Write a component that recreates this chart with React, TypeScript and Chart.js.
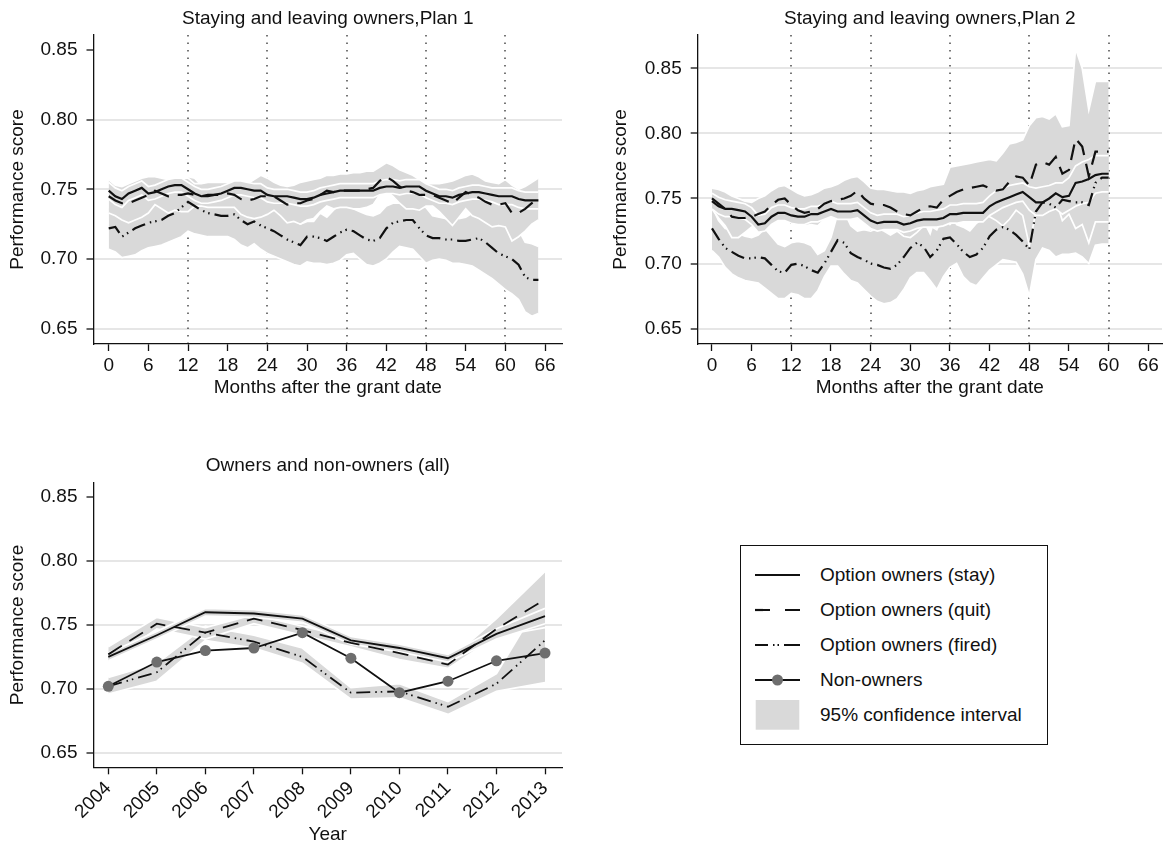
import React, { useEffect, useRef } from "react";
import { Chart, registerables } from "chart.js";

Chart.register(...registerables);

const FONT = "'Liberation Sans', Arial, Helvetica, sans-serif";
const INK = "#111111";
const BAND_FILL = "#d9d9d9";
const GRID = "#e6e6e6";

// ---- axis ticks -------------------------------------------------------
const monthTicks = [0, 6, 12, 18, 24, 30, 36, 42, 48, 54, 60, 66];
const vestingMonths = [12, 24, 36, 48, 60];
const scoreTicks = [0.65, 0.7, 0.75, 0.8, 0.85];
const years = [2004, 2005, 2006, 2007, 2008, 2009, 2010, 2011, 2012, 2013];

const seriesNames = [
  "Option owners (stay)",
  "Option owners (quit)",
  "Option owners (fired)",
  "Non-owners",
  "95% confidence interval",
];

// ---- Plan 1 (months 0..65) --------------------------------------------
const plan1Months = Array.from({ length: 66 }, (_, i) => i);
const plan1Stay = [
  0.749, 0.745, 0.743, 0.747, 0.749, 0.751, 0.747, 0.748, 0.75, 0.752,
  0.753, 0.753, 0.75, 0.747, 0.745, 0.745, 0.746, 0.747, 0.749, 0.751,
  0.751, 0.75, 0.749, 0.749, 0.746, 0.745, 0.745, 0.745, 0.744, 0.743,
  0.743, 0.744, 0.746, 0.747, 0.748, 0.749, 0.749, 0.749, 0.749, 0.749,
  0.749, 0.751, 0.752, 0.752, 0.751, 0.752, 0.752, 0.752, 0.749, 0.747,
  0.745, 0.745, 0.744, 0.746, 0.747, 0.748, 0.748, 0.747, 0.746, 0.745,
  0.745, 0.745, 0.743, 0.742, 0.742, 0.742,
];
const plan1StayHi = [
  0.755, 0.751, 0.749, 0.752, 0.754, 0.756, 0.752, 0.753, 0.755, 0.757,
  0.758, 0.758, 0.755, 0.752, 0.75, 0.75, 0.751, 0.752, 0.754, 0.756,
  0.756, 0.755, 0.754, 0.754, 0.751, 0.75, 0.75, 0.75, 0.749, 0.748,
  0.748, 0.749, 0.751, 0.752, 0.753, 0.754, 0.754, 0.754, 0.754, 0.754,
  0.754, 0.756, 0.757, 0.757, 0.756, 0.757, 0.757, 0.757, 0.754, 0.752,
  0.75, 0.75, 0.749, 0.751, 0.752, 0.753, 0.753, 0.752, 0.751, 0.751,
  0.751, 0.751, 0.749, 0.748, 0.748, 0.748,
];
const plan1StayLo = [
  0.743, 0.739, 0.737, 0.742, 0.744, 0.746, 0.742, 0.743, 0.745, 0.747,
  0.748, 0.748, 0.745, 0.742, 0.74, 0.74, 0.741, 0.742, 0.744, 0.746,
  0.746, 0.745, 0.744, 0.744, 0.741, 0.74, 0.74, 0.74, 0.739, 0.738,
  0.738, 0.739, 0.741, 0.742, 0.743, 0.744, 0.744, 0.744, 0.744, 0.744,
  0.744, 0.746, 0.747, 0.747, 0.746, 0.747, 0.747, 0.747, 0.744, 0.742,
  0.74, 0.74, 0.739, 0.741, 0.742, 0.743, 0.743, 0.742, 0.741, 0.739,
  0.739, 0.739, 0.737, 0.736, 0.736, 0.736,
];
const plan1Quit = [
  0.745, 0.742, 0.74, 0.74, 0.742, 0.744, 0.746, 0.749, 0.747, 0.745,
  0.746, 0.746, 0.747, 0.746, 0.745, 0.746, 0.746, 0.746, 0.747, 0.746,
  0.743, 0.742, 0.743, 0.745, 0.745, 0.745, 0.742, 0.739, 0.74, 0.74,
  0.742, 0.743, 0.746, 0.749, 0.748, 0.749, 0.749, 0.749, 0.749, 0.75,
  0.751, 0.756, 0.759, 0.756, 0.752, 0.749, 0.748, 0.746, 0.746, 0.746,
  0.744, 0.742, 0.74, 0.744, 0.748, 0.746, 0.744, 0.741, 0.739, 0.739,
  0.74, 0.733, 0.733, 0.736, 0.74, 0.743,
];
const plan1QuitHi = [
  0.757, 0.753, 0.752, 0.754, 0.756, 0.758, 0.759, 0.759, 0.758, 0.757,
  0.757, 0.758, 0.758, 0.754, 0.754, 0.755, 0.755, 0.755, 0.755, 0.755,
  0.754, 0.754, 0.757, 0.76, 0.758, 0.755, 0.753, 0.752, 0.753, 0.755,
  0.756, 0.757, 0.758, 0.76, 0.76, 0.761, 0.761, 0.762, 0.762, 0.763,
  0.763, 0.766, 0.769, 0.767, 0.764, 0.762, 0.76, 0.757, 0.754, 0.754,
  0.754, 0.755, 0.756, 0.758, 0.76, 0.761, 0.759, 0.756, 0.755, 0.754,
  0.757, 0.753, 0.75, 0.752, 0.755, 0.758,
];
const plan1QuitLo = [
  0.733, 0.731, 0.728, 0.726, 0.728, 0.73, 0.733, 0.739, 0.736, 0.733,
  0.735, 0.734, 0.734, 0.738, 0.738, 0.737, 0.737, 0.737, 0.737, 0.737,
  0.732, 0.73, 0.729, 0.73, 0.732, 0.735, 0.731, 0.726, 0.727, 0.725,
  0.728, 0.729, 0.734, 0.738, 0.736, 0.737, 0.737, 0.736, 0.736, 0.737,
  0.739, 0.746, 0.749, 0.745, 0.74, 0.736, 0.736, 0.735, 0.738, 0.738,
  0.734, 0.729, 0.724, 0.73, 0.736, 0.731, 0.729, 0.726, 0.723, 0.724,
  0.723, 0.713, 0.716, 0.72, 0.725, 0.728,
];
const plan1Fired = [
  0.722, 0.723, 0.716, 0.719, 0.722, 0.724, 0.726, 0.727, 0.728, 0.731,
  0.733, 0.737, 0.741, 0.738, 0.735, 0.733, 0.732, 0.731, 0.731, 0.732,
  0.728, 0.725, 0.727, 0.724, 0.722, 0.72, 0.717, 0.714, 0.712, 0.71,
  0.716, 0.716, 0.715, 0.713, 0.716, 0.719, 0.721, 0.72, 0.717, 0.714,
  0.713, 0.715, 0.722, 0.726, 0.727, 0.728, 0.728, 0.722, 0.717, 0.715,
  0.715, 0.714, 0.714, 0.713, 0.713, 0.714, 0.715, 0.712, 0.708, 0.704,
  0.702, 0.7, 0.696, 0.687, 0.685, 0.685,
];
const plan1FiredHi = [
  0.737, 0.741, 0.731, 0.736, 0.741, 0.742, 0.744, 0.745, 0.746, 0.75,
  0.752, 0.756, 0.759, 0.758, 0.753, 0.75, 0.748, 0.746, 0.746, 0.75,
  0.746, 0.742, 0.743, 0.741, 0.74, 0.738, 0.734, 0.73, 0.728, 0.725,
  0.727, 0.727, 0.733, 0.73, 0.735, 0.739, 0.739, 0.736, 0.734, 0.732,
  0.731, 0.733, 0.738, 0.74, 0.74, 0.741, 0.742, 0.738, 0.737, 0.731,
  0.73, 0.729, 0.731, 0.729, 0.73, 0.733, 0.738, 0.735, 0.73, 0.726,
  0.726, 0.725, 0.721, 0.712, 0.711, 0.709,
];
const plan1FiredLo = [
  0.707, 0.705, 0.701, 0.702, 0.703, 0.706, 0.708, 0.709, 0.71, 0.712,
  0.714, 0.716, 0.72, 0.718, 0.717, 0.716, 0.716, 0.716, 0.716, 0.714,
  0.71, 0.708, 0.711, 0.707, 0.704, 0.702, 0.7, 0.698, 0.696, 0.695,
  0.698, 0.697, 0.697, 0.696, 0.697, 0.699, 0.703, 0.704, 0.7, 0.696,
  0.695, 0.697, 0.7, 0.705, 0.709, 0.708, 0.707, 0.702, 0.697, 0.699,
  0.7, 0.699, 0.697, 0.697, 0.696, 0.695, 0.692, 0.689, 0.686, 0.682,
  0.678, 0.675, 0.671, 0.662, 0.659, 0.661,
];

// ---- Plan 2 (months 0..60) --------------------------------------------
const plan2Months = Array.from({ length: 61 }, (_, i) => i);
const plan2Stay = [
  0.748, 0.744, 0.742, 0.742, 0.741, 0.74, 0.736, 0.73, 0.731, 0.736,
  0.739, 0.739, 0.737, 0.736, 0.736, 0.738, 0.738, 0.74, 0.742, 0.74,
  0.74, 0.74, 0.741, 0.737, 0.733, 0.731, 0.732, 0.732, 0.732, 0.73,
  0.731, 0.733, 0.734, 0.734, 0.734, 0.735, 0.738, 0.738, 0.739, 0.739,
  0.739, 0.739, 0.744, 0.747, 0.749, 0.751, 0.753, 0.755, 0.751, 0.747,
  0.747, 0.75, 0.754, 0.751, 0.752, 0.762, 0.763, 0.765, 0.768, 0.769,
  0.769,
];
const plan2StayHi = [
  0.754, 0.751, 0.749, 0.748, 0.747, 0.746, 0.743, 0.737, 0.738, 0.743,
  0.745, 0.745, 0.743, 0.742, 0.742, 0.744, 0.744, 0.746, 0.748, 0.746,
  0.746, 0.746, 0.747, 0.743, 0.739, 0.737, 0.738, 0.738, 0.738, 0.736,
  0.737, 0.739, 0.74, 0.74, 0.741, 0.742, 0.745, 0.745, 0.746, 0.746,
  0.746, 0.747, 0.752, 0.756, 0.758, 0.76, 0.761, 0.762, 0.759, 0.758,
  0.759, 0.76, 0.762, 0.762, 0.766, 0.775, 0.778, 0.78, 0.783, 0.783,
  0.783,
];
const plan2StayLo = [
  0.742, 0.738, 0.736, 0.736, 0.735, 0.734, 0.73, 0.724, 0.725, 0.73,
  0.733, 0.733, 0.731, 0.73, 0.73, 0.732, 0.732, 0.734, 0.736, 0.734,
  0.734, 0.734, 0.735, 0.731, 0.727, 0.725, 0.726, 0.726, 0.726, 0.724,
  0.725, 0.727, 0.728, 0.728, 0.728, 0.729, 0.731, 0.731, 0.732, 0.732,
  0.732, 0.732, 0.737, 0.74, 0.743, 0.745, 0.747, 0.748, 0.741, 0.737,
  0.737, 0.74, 0.742, 0.738, 0.741, 0.744, 0.746, 0.747, 0.754, 0.755,
  0.755,
];
const plan2Quit = [
  0.75, 0.746, 0.742, 0.736, 0.735, 0.735, 0.736, 0.738, 0.74, 0.745,
  0.749, 0.75, 0.745, 0.741, 0.739, 0.74, 0.742, 0.746, 0.748, 0.749,
  0.75, 0.752, 0.756, 0.75, 0.746, 0.745, 0.745, 0.743, 0.74, 0.738,
  0.737, 0.74, 0.743, 0.744, 0.743, 0.749, 0.752, 0.755, 0.757, 0.758,
  0.759, 0.76, 0.758, 0.756, 0.757, 0.763, 0.767, 0.766, 0.76, 0.776,
  0.778, 0.776, 0.782, 0.769, 0.772, 0.796, 0.79, 0.767, 0.786, 0.786,
  0.786,
];
const plan2QuitHi = [
  0.758, 0.757, 0.755, 0.752, 0.75, 0.748, 0.747, 0.75, 0.752, 0.756,
  0.759, 0.76, 0.757, 0.754, 0.752, 0.753, 0.755, 0.758, 0.759, 0.761,
  0.764, 0.766, 0.767, 0.763, 0.758, 0.757, 0.757, 0.756, 0.755, 0.755,
  0.754, 0.756, 0.757, 0.759, 0.76, 0.761, 0.774, 0.775, 0.776, 0.777,
  0.778, 0.779, 0.78, 0.779, 0.785, 0.792, 0.793, 0.795, 0.806, 0.812,
  0.813, 0.811, 0.815, 0.805, 0.806, 0.865, 0.85, 0.818, 0.84, 0.84,
  0.84,
];
const plan2QuitLo = [
  0.742, 0.735, 0.729, 0.72, 0.72, 0.724, 0.728, 0.729, 0.73, 0.734,
  0.739, 0.74, 0.733, 0.73, 0.729, 0.73, 0.729, 0.734, 0.737, 0.737,
  0.736, 0.738, 0.745, 0.737, 0.734, 0.733, 0.733, 0.73, 0.725, 0.721,
  0.72, 0.724, 0.729, 0.729, 0.726, 0.737, 0.73, 0.735, 0.738, 0.739,
  0.74, 0.741, 0.736, 0.733, 0.729, 0.734, 0.741, 0.737, 0.714, 0.74,
  0.743, 0.741, 0.749, 0.733, 0.738, 0.727, 0.73, 0.716, 0.732, 0.732,
  0.732,
];
const plan2Fired = [
  0.727, 0.719, 0.712, 0.709, 0.706, 0.704, 0.704, 0.705, 0.704, 0.699,
  0.694, 0.693, 0.699, 0.7, 0.698, 0.695, 0.693, 0.7, 0.709, 0.718,
  0.716, 0.708, 0.705, 0.703, 0.7, 0.699, 0.697, 0.696, 0.699, 0.705,
  0.712, 0.716, 0.713, 0.705, 0.71, 0.719, 0.72, 0.715, 0.709, 0.705,
  0.707, 0.712, 0.721, 0.726, 0.728, 0.726, 0.722, 0.717, 0.711, 0.74,
  0.747, 0.746, 0.743, 0.749, 0.748, 0.747, 0.747, 0.745, 0.762, 0.766,
  0.766,
];
const plan2FiredHi = [
  0.744, 0.733, 0.727, 0.726, 0.723, 0.721, 0.72, 0.722, 0.727, 0.721,
  0.715, 0.713, 0.716, 0.717, 0.716, 0.714, 0.707, 0.71, 0.72, 0.738,
  0.74, 0.729, 0.725, 0.726, 0.725, 0.727, 0.725, 0.722, 0.725, 0.73,
  0.735, 0.739, 0.733, 0.723, 0.74, 0.748, 0.743, 0.73, 0.728, 0.725,
  0.731, 0.735, 0.747, 0.753, 0.753, 0.75, 0.743, 0.742, 0.747, 0.775,
  0.785, 0.786, 0.79, 0.792, 0.791, 0.79, 0.789, 0.8, 0.817, 0.817,
  0.817,
];
const plan2FiredLo = [
  0.71, 0.705, 0.697, 0.692, 0.689, 0.687, 0.686, 0.685, 0.681, 0.677,
  0.673, 0.673, 0.677, 0.676, 0.673, 0.673, 0.679, 0.69, 0.698, 0.698,
  0.692, 0.687, 0.685, 0.68, 0.675, 0.671, 0.669, 0.67, 0.673, 0.68,
  0.689, 0.693, 0.693, 0.687, 0.68, 0.69, 0.697, 0.7, 0.69, 0.685,
  0.683, 0.689, 0.695, 0.699, 0.703, 0.702, 0.701, 0.692, 0.675, 0.703,
  0.712, 0.71, 0.705, 0.707, 0.707, 0.708, 0.705, 0.7, 0.714, 0.715,
  0.715,
];

// ---- Owners and non-owners by year ------------------------------------
const allStay = [0.725, 0.742, 0.76, 0.759, 0.755, 0.738, 0.732, 0.724, 0.743, 0.757];
const allStayHi = [0.728, 0.745, 0.763, 0.762, 0.758, 0.741, 0.735, 0.727, 0.747, 0.763];
const allStayLo = [0.722, 0.739, 0.757, 0.756, 0.752, 0.735, 0.729, 0.721, 0.739, 0.751];
const allQuit = [0.727, 0.751, 0.744, 0.755, 0.746, 0.736, 0.728, 0.719, 0.747, 0.77];
const allQuitHi = [0.733, 0.756, 0.748, 0.758, 0.749, 0.74, 0.732, 0.722, 0.755, 0.792];
const allQuitLo = [0.721, 0.747, 0.739, 0.751, 0.742, 0.733, 0.723, 0.716, 0.741, 0.748];
const allFired = [0.702, 0.713, 0.744, 0.737, 0.725, 0.697, 0.698, 0.686, 0.704, 0.738];
const allFiredHi = [0.709, 0.72, 0.749, 0.742, 0.732, 0.701, 0.704, 0.69, 0.712, 0.775];
const allFiredLo = [0.696, 0.706, 0.738, 0.732, 0.72, 0.692, 0.693, 0.68, 0.698, 0.705];
const nonOwners = [0.702, 0.721, 0.73, 0.732, 0.744, 0.724, 0.697, 0.706, 0.722, 0.728];

// ---- line styles --------------------------------------------------------
const quitDash = [16, 9];
const firedDash = [14, 5, 1.5, 4, 1.5, 5];
const MARKER = "#6e6e6e";

const pts = (xs: number[], ys: number[]) => xs.map((x, i) => ({ x, y: ys[i] }));

// Two datasets per band: the upper edge fills down to the lower edge,
// both edges are stroked in white.
function band(xs: number[], lo: number[], hi: number[], order: number) {
  return [
    {
      data: pts(xs, hi),
      borderColor: "#ffffff",
      borderWidth: 1.7,
      backgroundColor: BAND_FILL,
      fill: "+1",
      pointRadius: 0,
      tension: 0,
      order: order + 1,
    },
    {
      data: pts(xs, lo),
      borderColor: "#ffffff",
      borderWidth: 1.7,
      backgroundColor: BAND_FILL,
      fill: false,
      pointRadius: 0,
      tension: 0,
      order,
    },
  ];
}

function line(xs: number[], ys: number[], dash: number[], width: number, order: number) {
  return {
    data: pts(xs, ys),
    borderColor: INK,
    borderWidth: width,
    borderDash: dash,
    pointRadius: 0,
    fill: false,
    tension: 0,
    order,
  };
}

// dotted vertical guides at the vesting dates
const vestingLinesPlugin = {
  id: "vestingLines",
  beforeDatasetsDraw(chart: any, _args: any, opts: any) {
    const values: number[] = (opts && opts.values) || [];
    if (!values.length) return;
    const { ctx, chartArea, scales } = chart;
    ctx.save();
    ctx.strokeStyle = "#555555";
    ctx.lineWidth = 1.6;
    ctx.setLineDash([1.6, 5.9]);
    values.forEach((v) => {
      const x = Math.round(scales.x.getPixelForValue(v));
      ctx.beginPath();
      ctx.moveTo(x, chartArea.top);
      ctx.lineTo(x, chartArea.bottom);
      ctx.stroke();
    });
    ctx.restore();
  },
};

type PanelSpec = {
  left: number;
  top: number;
  width: number;
  height: number;
  title: string;
  titlePad: [number, number];
  xTitle: string;
  xTitlePadBottom: number;
  xMin: number;
  xMax: number;
  yMin: number;
  yMax: number;
  xTicks: number[];
  rotate: boolean;
  yAxisWidth: number;
  xAxisHeight: number;
  padRight: number;
  hideTopGrid: boolean;
  guides: number[];
  datasets: any[];
};

const font = (size = 19) => ({ family: FONT, size, weight: "normal" as const, lineHeight: 1.2 });

function buildConfig(s: PanelSpec): any {
  return {
    type: "line",
    data: { datasets: s.datasets },
    plugins: [vestingLinesPlugin],
    options: {
      responsive: false,
      animation: false,
      devicePixelRatio: 1,
      events: [],
      layout: { padding: { left: 0, right: s.padRight, top: 0, bottom: 0 } },
      plugins: {
        legend: { display: false },
        tooltip: { enabled: false },
        title: {
          display: true,
          text: s.title,
          fullSize: false,
          color: INK,
          font: font(),
          padding: { top: s.titlePad[0], bottom: s.titlePad[1] },
        },
        vestingLines: { values: s.guides },
      },
      scales: {
        x: {
          type: "linear",
          min: s.xMin,
          max: s.xMax,
          afterBuildTicks: (scale: any) => {
            scale.ticks = s.xTicks.map((v) => ({ value: v }));
          },
          afterFit: (scale: any) => {
            scale.height = s.xAxisHeight;
          },
          ticks: {
            autoSkip: false,
            color: INK,
            font: font(),
            padding: 3,
            minRotation: s.rotate ? 45 : 0,
            maxRotation: s.rotate ? 45 : 0,
            callback: (v: any) => String(v),
          },
          grid: {
            display: true,
            drawOnChartArea: false,
            drawTicks: true,
            tickLength: 7,
            tickColor: INK,
            tickWidth: 1.3,
            color: "rgba(0,0,0,0)",
          },
          border: { display: true, color: INK, width: 1.3, z: 1 },
          title: {
            display: true,
            text: s.xTitle,
            color: INK,
            font: font(),
            padding: { top: 0, bottom: s.xTitlePadBottom },
          },
        },
        y: {
          type: "linear",
          min: s.yMin,
          max: s.yMax,
          afterBuildTicks: (scale: any) => {
            scale.ticks = scoreTicks.map((v) => ({ value: v }));
          },
          afterFit: (scale: any) => {
            scale.width = s.yAxisWidth;
          },
          ticks: {
            color: INK,
            font: font(),
            padding: 9,
            callback: (v: any) => Number(v).toFixed(2),
          },
          grid: {
            display: true,
            drawOnChartArea: true,
            drawTicks: true,
            tickLength: 7,
            tickColor: INK,
            tickWidth: 1.3,
            lineWidth: 2,
            color: (ctx: any) =>
              s.hideTopGrid && ctx.tick && ctx.tick.value > 0.849 ? "rgba(0,0,0,0)" : GRID,
          },
          border: { display: true, color: INK, width: 1.3, z: 1 },
          title: {
            display: true,
            text: "Performance score",
            color: INK,
            font: font(),
            padding: { top: 6.3, bottom: 0 },
          },
        },
      },
    },
  };
}

function Panel({ spec }: { spec: PanelSpec }) {
  const ref = useRef<HTMLCanvasElement | null>(null);
  useEffect(() => {
    if (!ref.current) return;
    const chart = new Chart(ref.current, buildConfig(spec));
    return () => chart.destroy();
  }, [spec]);
  return (
    <canvas
      ref={ref}
      width={spec.width}
      height={spec.height}
      style={{
        position: "absolute",
        left: spec.left,
        top: spec.top,
        width: spec.width,
        height: spec.height,
      }}
    />
  );
}

const plan1Spec: PanelSpec = {
  left: 0,
  top: 0,
  width: 583,
  height: 423,
  title: "Staying and leaving owners,Plan 1",
  titlePad: [7, 5.2],
  xTitle: "Months after the grant date",
  xTitlePadBottom: 24,
  xMin: -2.3,
  xMax: 68.57,
  yMin: 0.6391,
  yMax: 0.8606,
  xTicks: monthTicks,
  rotate: false,
  yAxisWidth: 93.5,
  xAxisHeight: 79,
  padRight: 21,
  hideTopGrid: true,
  guides: vestingMonths,
  datasets: [
    line(plan1Months, plan1Stay, [], 2.2, 0),
    line(plan1Months, plan1Quit, quitDash, 2.2, 1),
    line(plan1Months, plan1Fired, firedDash, 2.2, 2),
    ...band(plan1Months, plan1StayLo, plan1StayHi, 20),
    ...band(plan1Months, plan1QuitLo, plan1QuitHi, 30),
    ...band(plan1Months, plan1FiredLo, plan1FiredHi, 40),
  ],
};

const plan2Spec: PanelSpec = {
  left: 603,
  top: 0,
  width: 563,
  height: 423,
  title: "Staying and leaving owners,Plan 2",
  titlePad: [7, 5.2],
  xTitle: "Months after the grant date",
  xTitlePadBottom: 24,
  xMin: -2.16,
  xMax: 68.07,
  yMin: 0.6382,
  yMax: 0.8756,
  xTicks: monthTicks,
  rotate: false,
  yAxisWidth: 94.7,
  xAxisHeight: 79,
  padRight: 4,
  hideTopGrid: false,
  guides: vestingMonths,
  datasets: [
    line(plan2Months, plan2Stay, [], 2.2, 0),
    line(plan2Months, plan2Quit, quitDash, 2.2, 1),
    line(plan2Months, plan2Fired, firedDash, 2.2, 2),
    ...band(plan2Months, plan2StayLo, plan2StayHi, 20),
    ...band(plan2Months, plan2QuitLo, plan2QuitHi, 30),
    ...band(plan2Months, plan2FiredLo, plan2FiredHi, 40),
  ],
};

const allSpec: PanelSpec = {
  left: 0,
  top: 423,
  width: 583,
  height: 423,
  title: "Owners and non-owners (all)",
  titlePad: [31, 5.9],
  xTitle: "Year",
  xTitlePadBottom: 0,
  xMin: 2003.695,
  xMax: 2013.35,
  yMin: 0.6386,
  yMax: 0.8614,
  xTicks: years,
  rotate: true,
  yAxisWidth: 93.5,
  xAxisHeight: 78.7,
  padRight: 21,
  hideTopGrid: true,
  guides: [],
  datasets: [
    {
      ...line(years, nonOwners, [], 1.8, 0),
      pointRadius: 5.5,
      pointBackgroundColor: MARKER,
      pointBorderWidth: 0,
    },
    line(years, allStay, [], 1.8, 1),
    line(years, allQuit, quitDash, 1.8, 2),
    line(years, allFired, firedDash, 1.8, 3),
    ...band(years, allStayLo, allStayHi, 20),
    ...band(years, allQuitLo, allQuitHi, 30),
    ...band(years, allFiredLo, allFiredHi, 40),
  ],
};

function Swatch({ kind }: { kind: number }) {
  const w = 45;
  const h = 30;
  if (kind === 4) {
    return (
      <svg width={w} height={h} style={{ display: "block" }}>
        <rect x={0.7} y={0} width={43.6} height={29.7} fill={BAND_FILL} />
      </svg>
    );
  }
  const dash = kind === 1 ? "15 15" : kind === 2 ? "13 5 1.5 3 1.5 5 20 5" : undefined;
  return (
    <svg width={w} height={h} style={{ display: "block" }}>
      <line x1={0} y1={15} x2={w} y2={15} stroke={INK} strokeWidth={2.2} strokeDasharray={dash} />
      {kind === 3 && <circle cx={w / 2} cy={15} r={5.5} fill={MARKER} />}
    </svg>
  );
}

function Legend() {
  return (
    <div
      style={{
        position: "absolute",
        left: 740,
        top: 545,
        width: 308,
        height: 200,
        boxSizing: "border-box",
        border: `1.5px solid ${INK}`,
        fontFamily: FONT,
        fontSize: 19,
        color: INK,
        background: "#ffffff",
      }}
    >
      {seriesNames.map((name, i) => (
        <div
          key={name}
          style={{
            position: "absolute",
            left: 13.5,
            top: 28.5 + i * 35.2 - 17,
            height: 34,
            display: "flex",
            alignItems: "center",
            whiteSpace: "nowrap",
          }}
        >
          <Swatch kind={i} />
          <span style={{ marginLeft: 20.5, lineHeight: "34px" }}>{name}</span>
        </div>
      ))}
    </div>
  );
}

export default function App() {
  return (
    <div
      style={{
        position: "absolute",
        left: 0,
        top: 0,
        width: 1166,
        height: 846,
        overflow: "hidden",
        background: "#ffffff",
      }}
    >
      <Panel spec={plan1Spec} />
      <Panel spec={plan2Spec} />
      <Panel spec={allSpec} />
      <Legend />
    </div>
  );
}
